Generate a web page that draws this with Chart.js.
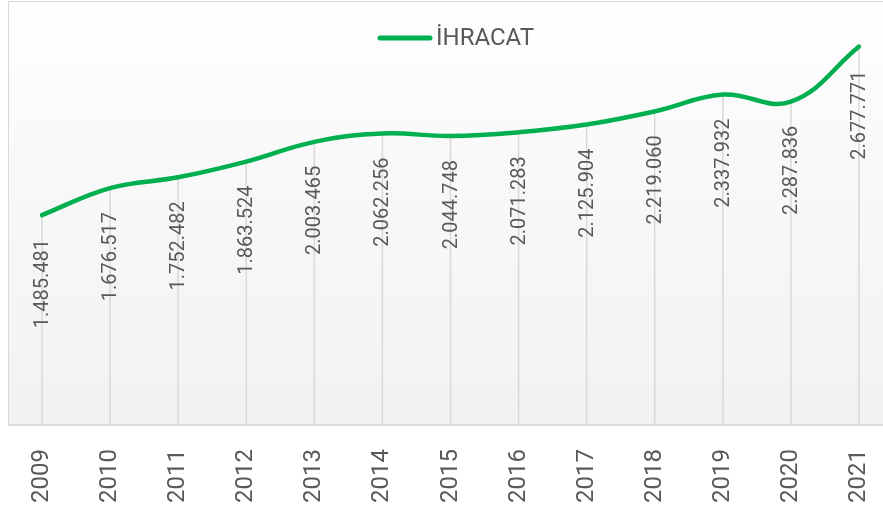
<!DOCTYPE html>
<html>
<head>
<meta charset="utf-8">
<script src="https://cdn.jsdelivr.net/npm/chart.js@4"></script>
<style>
  html, body { margin: 0; padding: 0; background: #fff; overflow: hidden; }
  #wrap { width: 883px; height: 511px; position: relative; }
</style>
</head>
<body>
<div id="wrap"><canvas id="chart"></canvas></div>
<script>
const years = ['2009', '2010', '2011', '2012', '2013', '2014', '2015', '2016', '2017', '2018', '2019', '2020', '2021'];
const ihracat = [1485481, 1676517, 1752482, 1863524, 2003465, 2062256, 2044748, 2071283, 2125904, 2219060, 2337932, 2287836, 2677771];
const seriesName = 'İHRACAT';

const green = '#00b050';
const textGray = '#595959';

function fmt(v) {
    return String(v).replace(/\B(?=(\d{3})+(?!\d))/g, '.');
}

// plot background, border, drop lines
const backdrop = {
    id: 'backdrop',
    beforeDatasetsDraw(chart) {
        const ctx = chart.ctx;
        const a = chart.chartArea;
        const step = (a.right - a.left) / (years.length - 1);
        const left = Math.round(a.left - step / 2);
        const right = chart.width;
        ctx.save();
        let g = ctx.createLinearGradient(0, a.top, 0, a.bottom);
        g.addColorStop(0, '#ffffff');
        g.addColorStop(0.35, '#f9f9f9');
        g.addColorStop(1, '#f2f2f2');
        ctx.fillStyle = g;
        ctx.fillRect(left, a.top, right - left, a.bottom - a.top);

        ctx.strokeStyle = '#d9d9d9';
        ctx.lineWidth = 1;
        ctx.beginPath();
        ctx.moveTo(left + 0.5, a.bottom);
        ctx.lineTo(left + 0.5, a.top + 0.5);
        ctx.lineTo(right, a.top + 0.5);
        ctx.stroke();

        // drop lines
        const meta = chart.getDatasetMeta(0);
        ctx.lineWidth = 1.5;
        meta.data.forEach(p => {
            ctx.beginPath();
            ctx.moveTo(p.x, p.y);
            ctx.lineTo(p.x, a.bottom);
            ctx.stroke();
        });

        // x axis line
        ctx.lineWidth = 2;
        ctx.beginPath();
        ctx.moveTo(left, a.bottom);
        ctx.lineTo(right, a.bottom);
        ctx.stroke();
        ctx.restore();
    }
};

// value labels under each point, and the legend
const labelsAndLegend = {
    id: 'labelsAndLegend',
    afterDatasetsDraw(chart) {
        const ctx = chart.ctx;
        const meta = chart.getDatasetMeta(0);
        ctx.save();
        ctx.font = '20px Roboto';
        ctx.fillStyle = textGray;
        ctx.textAlign = 'right';
        ctx.textBaseline = 'middle';
        meta.data.forEach((p, i) => {
            ctx.save();
            ctx.translate(p.x + 1, p.y + 24);
            ctx.rotate(-Math.PI / 2);
            ctx.fillText(fmt(ihracat[i]), 0, 0);
            ctx.restore();
        });

        // legend
        ctx.strokeStyle = green;
        ctx.lineWidth = 5;
        ctx.lineCap = 'round';
        ctx.beginPath();
        ctx.moveTo(380, 38);
        ctx.lineTo(430, 38);
        ctx.stroke();
        ctx.font = '24px Roboto';
        ctx.textAlign = 'left';
        ctx.fillText(seriesName, 436, 39);
        ctx.restore();
    }
};

new Chart(document.getElementById('chart'), {
    type: 'line',
    data: {
        labels: years,
        datasets: [{
            label: seriesName,
            data: ihracat,
            borderColor: green,
            borderWidth: 4.5,
            borderCapStyle: 'round',
            borderJoinStyle: 'round',
            tension: 0.4,
            pointRadius: 0,
            fill: false
        }]
    },
    options: {
        responsive: true,
        maintainAspectRatio: false,
        animation: false,
        layout: {
            padding: { left: 42, top: 1, right: 24, bottom: 0 }
        },
        plugins: {
            legend: { display: false },
            tooltip: { enabled: false }
        },
        scales: {
            x: {
                offset: false,
                grid: { display: false },
                border: { display: false },
                ticks: {
                    minRotation: 90,
                    maxRotation: 90,
                    padding: 16,
                    color: textGray,
                    font: { family: 'Roboto', size: 24 }
                },
                afterFit(scale) {
                    scale.height = 86;
                    scale.paddingLeft = 0;
                    scale.paddingRight = 0;
                }
            },
            y: {
                display: false,
                min: 0,
                max: 3000000
            }
        }
    },
    plugins: [backdrop, labelsAndLegend]
});
</script>
</body>
</html>
